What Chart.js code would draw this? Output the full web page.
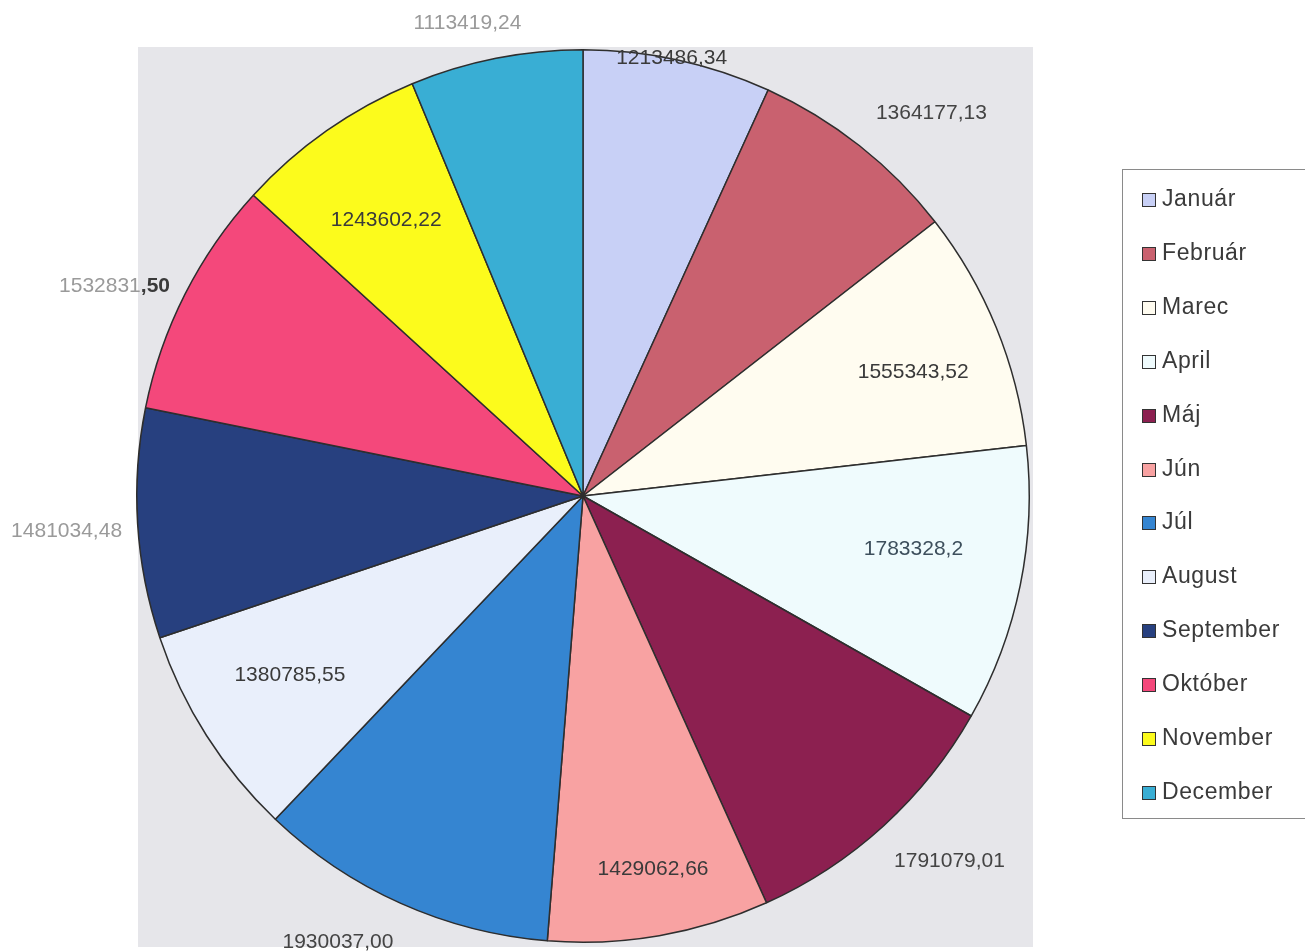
<!DOCTYPE html>
<html>
<head>
<meta charset="utf-8">
<script src="https://cdn.jsdelivr.net/npm/chart.js@4/dist/chart.umd.min.js"></script>
<style>
  html, body { margin: 0; padding: 0; background: #fff; }
  #wrap { position: relative; width: 1310px; height: 952px; }
  #pie { position: absolute; left: 0; top: 0; }
  #legend {
    position: absolute; left: 1122px; top: 169px; width: 183px; height: 650px;
    border: 1px solid #8a8a8a; border-right: none; box-sizing: border-box;
    font-family: "Liberation Sans", Arial, sans-serif; font-size: 23px; color: #3a3a3a;
  }
  .item { position: absolute; left: 19px; height: 26px; line-height: 26px; white-space: nowrap; letter-spacing: 0.6px; }
  .box { display: inline-block; width: 12px; height: 12px; border: 1.5px solid #333; vertical-align: -1px; margin-right: 6px; }
</style>
</head>
<body>
<div id="wrap">
  <canvas id="pie" width="1310" height="952"></canvas>
  <div id="legend"></div>
</div>
<script>
// mesačné hodnoty
var months = ['Január', 'Február', 'Marec', 'April', 'Máj', 'Jún', 'Júl', 'August', 'September', 'Október', 'November', 'December'];
var values = [1213486.34, 1364177.13, 1555343.52, 1783328.2, 1791079.01, 1429062.66, 1930037.00, 1380785.55, 1481034.48, 1532831.50, 1243602.22, 1113419.24];
var decimals = [2, 2, 2, 1, 2, 2, 2, 2, 2, 2, 2, 2];

// farby výsekov
var colors = ['#c8d0f6', '#c9616f', '#fffcf0', '#effbfd', '#8c2050', '#f8a2a2', '#3585d1', '#e9effb', '#27407f', '#f4487b', '#fcfb1c', '#39aed4'];

// popisky: vzdialenosť od stredu (násobok polomeru), posun uhla v stupňoch, farba
var labelRadius = [1.0, 1.16, 0.79, 0.75, 1.16, 0.85, 1.14, 0.77, 1.16, 1.15, 0.76, 1.09];
var labelShift = [-0.8, 4.0, 1.7, -2.4, -2.7, -0.8, 4.7, 1.0, -0.4, -2.8, -0.4, -2.5];
var labelColor = ['#3a3a3a', '#444', '#3a3a3a', '#3d4f5c', '#444', '#3a3a3a', '#444', '#3a3a3a', '#9a9a9a', '#9a9a9a', '#3a3a3a', '#9a9a9a'];
var labelBoldTail = [0, 0, 0, 0, 0, 0, 0, 0, 0, 3, 0, 0];

var FONT = '21px "Liberation Sans", Arial, sans-serif';
var FONT_BOLD = 'bold 21px "Liberation Sans", Arial, sans-serif';

function fmt(v, d) {
  return v.toFixed(d).replace('.', ',');
}

var plotBackground = {
  id: 'plotBackground',
  beforeDraw: function (chart) {
    var c = chart.ctx;
    c.save();
    c.fillStyle = '#e6e6ea';
    c.fillRect(138, 47, 895, 900);
    c.restore();
  }
};

var sliceLabels = {
  id: 'sliceLabels',
  afterDatasetsDraw: function (chart) {
    var c = chart.ctx;
    var meta = chart.getDatasetMeta(0);
    c.save();
    c.font = FONT;
    c.textBaseline = 'middle';
    meta.data.forEach(function (arc, i) {
      var p = arc.getProps(['x', 'y', 'startAngle', 'endAngle', 'outerRadius'], true);
      var mid = (p.startAngle + p.endAngle) / 2 + labelShift[i] * Math.PI / 180;
      var r = p.outerRadius * labelRadius[i];
      var x = p.x + Math.cos(mid) * r;
      var y = p.y + Math.sin(mid) * r;
      var txt = fmt(values[i], decimals[i]);
      var n = labelBoldTail[i];
      c.fillStyle = labelColor[i];
      if (!n) {
        c.textAlign = 'center';
        c.fillText(txt, x, y);
        return;
      }
      // časť čísla tučne
      var head = txt.slice(0, txt.length - n);
      var tail = txt.slice(txt.length - n);
      var wHead = c.measureText(head).width;
      c.font = FONT_BOLD;
      var wTail = c.measureText(tail).width;
      var x0 = x - (wHead + wTail) / 2;
      c.textAlign = 'left';
      c.font = FONT;
      c.fillText(head, x0, y);
      c.font = FONT_BOLD;
      c.fillStyle = '#3a3a3a';
      c.fillText(tail, x0 + wHead, y);
      c.font = FONT;
    });
    c.restore();
  }
};

new Chart(document.getElementById('pie'), {
  type: 'pie',
  data: {
    labels: months,
    datasets: [{
      data: values,
      backgroundColor: colors,
      borderColor: '#2e2e2e',
      borderWidth: 1.5
    }]
  },
  options: {
    responsive: false,
    animation: false,
    layout: { padding: { left: 136, right: 280, top: 48, bottom: 8 } },
    plugins: {
      legend: { display: false },
      tooltip: { enabled: false }
    }
  },
  plugins: [plotBackground, sliceLabels]
});

// legenda vpravo
var legend = document.getElementById('legend');
months.forEach(function (m, i) {
  var el = document.createElement('div');
  el.className = 'item';
  el.style.top = (15 + i * 53.9) + 'px';
  el.innerHTML = '<span class="box" style="background:' + colors[i] + '"></span>' + m;
  legend.appendChild(el);
});
</script>
</body>
</html>
